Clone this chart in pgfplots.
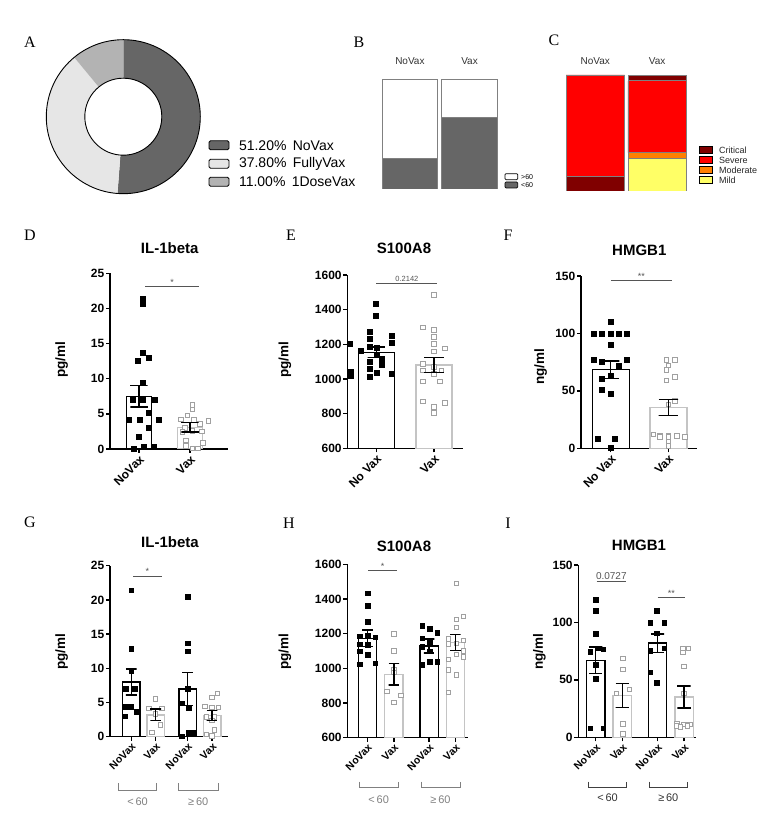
\documentclass[border=0pt]{standalone}
\usepackage{pgfplots}
\pgfplotsset{compat=1.18}
\usepackage{fontspec}
\setmainfont{Liberation Sans}
\newfontfamily\serif{Liberation Serif}
\definecolor{dgray}{HTML}{666666}
\definecolor{lgray}{HTML}{E6E6E6}
\definecolor{mgray}{HTML}{B3B3B3}
\definecolor{crit}{HTML}{800000}
\definecolor{sev}{HTML}{FF0000}
\definecolor{mod}{HTML}{FF8000}
\definecolor{mild}{HTML}{FFFF66}
\definecolor{vaxbar}{HTML}{C4C4C4}
\definecolor{vaxpt}{HTML}{A0A0A0}
\definecolor{sigc}{HTML}{555555}
\definecolor{brd}{HTML}{808080}
\newcommand{\fs}[1]{\fontsize{#1}{#1}\selectfont}
\pgfplotsset{
  gp/.style={scale only axis, anchor=south west, axis lines*=left,
    axis line style={line width=1.4pt, -}, tick style={line width=1.4pt, black},
    tick align=outside, major tick length=4pt, clip mode=individual,
    yticklabel style={font=\bfseries\fs{12}, inner sep=1.5pt},
    xticklabel style={font=\bfseries\fs{12}, rotate=45, anchor=north east, inner sep=1pt},
    /pgf/number format/assume math mode=true, /pgf/number format/1000 sep={}},
  gp3/.style={gp, xticklabel style={font=\bfseries\fs{10.5}}},
  nvbar/.style={ybar, bar shift=0pt, fill=white, draw=black, line width=1.4pt},
  vxbar/.style={ybar, bar shift=0pt, fill=white, draw=vaxbar, line width=1.4pt},
  nvpt/.style={only marks, mark=square*, mark size=2.5pt, mark options={fill=black, draw=black, line width=0.3pt}},
  vxpt/.style={only marks, mark=square*, mark size=2.3pt, mark options={fill=white, draw=vaxpt, line width=0.9pt}},
  eb/.style={black, line width=1.4pt, mark=none, line cap=butt},
  stk/.style={draw=brd, line width=0.8pt},
}
\begin{document}
\begin{tikzpicture}[x=1pt,y=1pt]
\path[use as bounding box] (0,0) rectangle (778,824);

% panel letters
\foreach \l/\x/\y in {A/30/782, B/359/782, C/554/784, D/30/589, E/291/589, F/508/589, G/30/302, H/289/301, I/508/301}
  \node[font=\serif\fs{16}] at (\x,\y) {\l};

% ---------- A : donut ----------
\pgfmathsetmacro{\angA}{90-3.6*51.20}
\pgfmathsetmacro{\angB}{\angA-3.6*37.80}
\pgfmathsetmacro{\angC}{\angB-3.6*11.00}
\begin{scope}[shift={(123.3,707.3)}]
  \fill[dgray] (90:77pt) arc[start angle=90, end angle=\angA, radius=77pt] -- (\angA:38.5pt) arc[start angle=\angA, end angle=90, radius=38.5pt] -- cycle;
  \fill[lgray] (\angA:77pt) arc[start angle=\angA, end angle=\angB, radius=77pt] -- (\angB:38.5pt) arc[start angle=\angB, end angle=\angA, radius=38.5pt] -- cycle;
  \fill[mgray] (\angB:77pt) arc[start angle=\angB, end angle=\angC, radius=77pt] -- (\angC:38.5pt) arc[start angle=\angC, end angle=\angB, radius=38.5pt] -- cycle;
  \draw[line width=0.9pt] (0,0) circle[radius=77pt];
  \draw[line width=0.9pt] (0,0) circle[radius=38.5pt];
\end{scope}
\draw[fill=dgray, rounded corners=1.5pt, line width=0.8pt] (209,674.2) rectangle (229,683.2);
\draw[fill=lgray, rounded corners=1.5pt, line width=0.8pt] (209,655.8) rectangle (229,664.8);
\draw[fill=mgray, rounded corners=1.5pt, line width=0.8pt] (209,637.8) rectangle (229,646.8);
\node[anchor=west, font=\fs{14}] at (235.5,678.7) {51.20\%\hspace{0.45em}NoVax};
\node[anchor=west, font=\fs{14}] at (235.5,660.3) {37.80\%\hspace{0.45em}FullyVax};
\node[anchor=west, font=\fs{14}] at (235.5,642.3) {11.00\%\hspace{0.45em}1DoseVax};

% ---------- B ----------
\begin{axis}[at={(380.1pt,635pt)}, anchor=south west, scale only axis, width=119.2pt, height=110pt,
  xmin=0.5, xmax=2.5, ymin=0, ymax=100, hide axis, ybar stacked, bar width=55.5pt]
  \addplot[stk, fill=dgray] coordinates {(1,27.5) (2,65)};
  \addplot[stk, fill=white] coordinates {(1,72.5) (2,35)};
\end{axis}
\node[font=\fs{10}, text=black!80] at (409.9,763.3) {NoVax};
\node[font=\fs{10}, text=black!80] at (469.5,763.3) {Vax};
\draw[fill=white, line width=0.7pt, rounded corners=1pt] (505,644.3) rectangle (517.7,650.3);
\draw[fill=dgray, line width=0.7pt, rounded corners=1pt] (505,636) rectangle (517.7,642);
\node[anchor=west, font=\fs{7}, inner sep=1pt] at (520,647.3) {>60};
\node[anchor=west, font=\fs{7}, inner sep=1pt] at (520,639) {<60};

% ---------- C ----------
\begin{axis}[at={(564.35pt,633pt)}, anchor=south west, scale only axis, width=123.8pt, height=116pt,
  xmin=0.5, xmax=2.5, ymin=0, ymax=100, hide axis, ybar stacked, bar width=58.5pt]
  \addplot[stk, fill=crit] coordinates {(1,13) (2,0)};
  \addplot[stk, fill=mild] coordinates {(1,0) (2,28.5)};
  \addplot[stk, fill=mod] coordinates {(1,0) (2,4.5)};
  \addplot[stk, fill=sev] coordinates {(1,87) (2,62)};
  \addplot[stk, fill=crit] coordinates {(1,0) (2,5)};
\end{axis}
\node[font=\fs{10}, text=black!80] at (595.3,763.3) {NoVax};
\node[font=\fs{10}, text=black!80] at (657.2,763.3) {Vax};
\foreach \c/\t/\y in {crit/Critical/674, sev/Severe/663.7, mod/Moderate/653.7, mild/Mild/644}{
  \draw[fill=\c, line width=0.7pt] (699,\y-3.5) rectangle (712,\y+3.5);
  \node[anchor=west, font=\fs{9}, inner sep=1pt, text=black!85] at (718,\y) {\t};
}

% ---------- D ----------
\begin{axis}[gp, at={(110pt,375pt)}, width=117.7pt, height=175.7pt, xmin=0.431, xmax=2.739,
  ymin=0, ymax=25, ytick={0,5,10,15,20,25}, xtick={1,2}, xticklabels={NoVax,Vax}]
  \addplot[nvbar, bar width=25pt] coordinates {(1,7.5)};
  \addplot[vxbar, bar width=25pt] coordinates {(2,3.1)};
  \addplot[nvpt] coordinates {(1.08,21.4) (1.08,20.7) (1.08,13.7) (1.18,13.0) (0.98,12.5) (1.08,9.5)
    (0.88,7.0) (1.08,7.0) (1.30,7.0) (1.18,5.2) (0.80,4.2) (1.02,4.2) (1.38,4.2) (1.18,3.1)
    (1.00,1.8) (0.90,0.1) (1.10,0.3) (1.28,0.3)};
  \addplot[vxpt] coordinates {(2.05,6.3) (2.05,5.6) (1.95,4.8) (1.82,4.2) (2.08,4.1) (2.36,4.0)
    (2.20,3.6) (1.90,3.0) (2.05,2.6) (2.23,2.5) (1.85,2.4) (1.92,1.2) (2.25,0.9) (1.92,0.4)
    (2.05,0.1) (2.15,0.1)};
  % mean +- SEM
  \addplot[eb] coordinates {(0.83,9.05) (1.17,9.05) (1,9.05) (1,5.95) (0.83,5.95) (1.17,5.95)};
  \addplot[eb] coordinates {(1.83,3.8) (2.17,3.8) (2,3.8) (2,2.4) (1.83,2.4) (2.17,2.4)};
  \draw[sigc, line width=0.9pt] (axis cs:1.12,23.1) -- (axis cs:2.18,23.1);
  \node[sigc, font=\fs{9}, above, inner sep=1pt] at (axis cs:1.65,23.1) {*};
\end{axis}
\node[font=\bfseries\fs{15}] at (169.7,575.7) {IL-1beta};
\node[rotate=90, font=\bfseries\fs{13.5}] at (61.7,464) {pg/ml};

% ---------- E ----------
\begin{axis}[gp, at={(347.3pt,375.7pt)}, width=115.4pt, height=173.3pt, xmin=0.497, xmax=2.497,
  ymin=600, ymax=1600, ytick={600,800,1000,1200,1400,1600}, xtick={1,2}, xticklabels={No Vax,Vax}]
  \addplot[nvbar, bar width=36pt] coordinates {(1,1154)};
  \addplot[vxbar, bar width=36pt] coordinates {(2,1081)};
  \addplot[nvpt] coordinates {(0.98,1433) (0.98,1363) (0.89,1273) (1.27,1250) (0.89,1230) (1.27,1212)
    (0.53,1202) (0.89,1187) (1.00,1180) (0.72,1165) (1.00,1140) (1.09,1120) (0.89,1100) (1.09,1085)
    (0.89,1060) (0.55,1045) (1.00,1035) (1.27,1030) (0.55,1020) (0.89,1015)};
  \addplot[vxpt] coordinates {(2.00,1485) (1.81,1298) (2.00,1283) (2.00,1244) (2.00,1202) (2.19,1177)
    (2.00,1158) (1.81,1087) (2.00,1071) (1.81,1050) (2.13,1050) (2.00,1030) (1.81,985) (2.10,985)
    (1.81,870) (2.19,862) (2.00,840) (2.00,805)};
  \addplot[eb] coordinates {(0.85,1184) (1.15,1184) (1,1184) (1,1124) (0.85,1124) (1.15,1124)};
  \addplot[eb] coordinates {(1.83,1124) (2.17,1124) (2,1124) (2,1038) (1.83,1038) (2.17,1038)};
  \draw[sigc, line width=0.9pt] (axis cs:1.0,1552) -- (axis cs:2.06,1552);
  \node[sigc, font=\fs{7.5}, above, inner sep=2pt] at (axis cs:1.53,1552) {0.2142};
\end{axis}
\node[font=\bfseries\fs{15}] at (404,575.7) {S100A8};
\node[rotate=90, font=\bfseries\fs{13.5}] at (285,464) {pg/ml};

% ---------- F ----------
\begin{axis}[gp, at={(581pt,375.7pt)}, width=115.7pt, height=172.3pt, xmin=0.482, xmax=2.494,
  ymin=0, ymax=150, ytick={0,50,100,150}, xtick={1,2}, xticklabels={No Vax,Vax}]
  \addplot[nvbar, bar width=37pt] coordinates {(1,68.5)};
  \addplot[vxbar, bar width=37pt] coordinates {(2,35.5)};
  \addplot[nvpt] coordinates {(0.99,110) (0.70,100) (0.84,100) (0.99,100) (1.13,100) (1.28,100)
    (0.99,90) (0.70,77.5) (1.28,77.5) (0.84,75) (1.13,72) (0.99,63) (0.84,61) (0.84,51)
    (0.99,48) (0.78,8) (1.07,8) (0.99,0.5)};
  \addplot[vxpt] coordinates {(1.97,77) (2.12,77) (2.00,72) (1.97,68) (2.12,62) (1.97,59) (2.12,41)
    (2.00,38) (1.74,12) (1.86,11) (2.00,11) (2.15,11) (2.29,10) (1.86,10) (2.00,10) (2.00,6) (2.00,2)};
  \addplot[eb] coordinates {(0.85,76) (1.15,76) (1,76) (1,61) (0.85,61) (1.15,61)};
  \addplot[eb] coordinates {(1.83,42.3) (2.17,42.3) (2,42.3) (2,28.7) (1.83,28.7) (2.17,28.7)};
  \draw[sigc, line width=0.9pt] (axis cs:1.0,145.9) -- (axis cs:2.06,145.9);
  \node[sigc, font=\fs{9}, above, inner sep=1pt] at (axis cs:1.53,145.9) {**};
\end{axis}
\node[font=\bfseries\fs{15}] at (639.3,574) {HMGB1};
\node[rotate=90, font=\bfseries\fs{13.5}] at (540.7,457.3) {ng/ml};

% ---------- G ----------
\begin{axis}[gp3, at={(110pt,87.3pt)}, width=118pt, height=171pt, xmin=0.135, xmax=4.95,
  ymin=0, ymax=25, ytick={0,5,10,15,20,25}, xtick={1,2,3.3,4.3}, xticklabels={NoVax,Vax,NoVax,Vax}]
  \addplot[nvbar, bar width=17.5pt] coordinates {(1,8.0) (3.3,7.0)};
  \addplot[vxbar, bar width=17.5pt] coordinates {(2,3.2) (4.3,3.1)};
  \addplot[nvpt, mark size=2.3pt] coordinates {(1.0,21.4) (1.0,12.9) (1.0,9.6) (0.78,7.0) (1.15,7.0)
    (0.78,4.4) (1.0,4.4) (1.2,3.7) (0.75,3.0)
    (3.3,20.5) (3.3,13.7) (3.3,12.5) (3.3,7.0) (3.06,4.9) (3.35,4.2) (3.06,0.1) (3.32,0.6) (3.52,0.6)};
  \addplot[vxpt, mark size=2.2pt] coordinates {(2.0,5.5) (1.72,4.1) (2.25,4.1) (2.0,3.3) (2.2,1.7) (1.85,0.6)
    (4.52,6.3) (4.3,5.7) (4.01,4.4) (4.3,4.3) (4.55,4.3) (4.06,2.9) (4.4,2.9) (4.3,2.4)
    (4.06,0.3) (4.3,0.1) (4.4,1.0)};
  \addplot[eb] coordinates {(0.78,9.9) (1.22,9.9) (1,9.9) (1,6.1) (0.78,6.1) (1.22,6.1)};
  \addplot[eb] coordinates {(1.78,4.05) (2.22,4.05) (2,4.05) (2,2.35) (1.78,2.35) (2.22,2.35)};
  \addplot[eb] coordinates {(3.08,9.4) (3.52,9.4) (3.3,9.4) (3.3,4.6) (3.08,4.6) (3.52,4.6)};
  \addplot[eb] coordinates {(4.08,3.8) (4.52,3.8) (4.3,3.8) (4.3,2.4) (4.08,2.4) (4.52,2.4)};
  \draw[sigc, line width=0.9pt] (axis cs:1.09,23.5) -- (axis cs:2.24,23.5);
  \node[sigc, font=\fs{9}, above, inner sep=1pt] at (axis cs:1.66,23.5) {*};
\end{axis}
\node[font=\bfseries\fs{15}] at (170,282.3) {IL-1beta};
\node[rotate=90, font=\bfseries\fs{13.5}] at (61.7,172.3) {pg/ml};
\draw[brd, line width=0.9pt] (118.3,40.7) -- (118.3,34) -- (156.7,34) -- (156.7,40.7);
\draw[brd, line width=0.9pt] (178.3,40.7) -- (178.3,34) -- (218.3,34) -- (218.3,40.7);
\node[text=brd, font=\fs{11}] at (137.5,22.3) {<\,60};
\node[text=brd, font=\fs{11}] at (198.3,22.3) {≥\,60};

% ---------- H ----------
\begin{axis}[gp3, at={(347.3pt,86.3pt)}, width=121pt, height=173.4pt, xmin=0.232, xmax=4.83,
  ymin=600, ymax=1600, ytick={600,800,1000,1200,1400,1600}, xtick={1,2,3.34,4.34}, xticklabels={NoVax,Vax,NoVax,Vax}]
  \addplot[nvbar, bar width=18.3pt] coordinates {(1,1173) (3.34,1129)};
  \addplot[vxbar, bar width=18.3pt] coordinates {(2,966) (4.34,1150)};
  \addplot[nvpt, mark size=2.3pt] coordinates {(1.0,1433) (1.0,1360) (1.0,1270) (1.0,1190) (0.71,1185) (1.29,1180)
    (0.71,1140) (1.0,1135) (0.71,1100) (1.0,1080) (1.29,1030) (0.71,1025)
    (3.07,1245) (3.36,1230) (3.64,1205) (3.07,1175) (3.36,1150) (3.07,1125) (3.36,1100) (3.36,1040) (3.64,1040) (3.07,1020)};
  \addplot[vxpt, mark size=2.2pt] coordinates {(2.0,1198) (2.0,1100) (2.0,990) (2.0,975) (1.74,865) (2.27,845) (2.0,802)
    (4.37,1490) (4.37,1283) (4.64,1298) (4.37,1237) (4.07,1170) (4.64,1160) (4.37,1145) (4.07,1140)
    (4.64,1100) (4.37,1080) (4.64,1065) (4.07,1050) (4.07,990) (4.37,962) (4.07,860)};
  \addplot[eb] coordinates {(0.8,1221) (1.2,1221) (1,1221) (1,1125) (0.8,1125) (1.2,1125)};
  \addplot[eb] coordinates {(1.8,1029) (2.2,1029) (2,1029) (2,903) (1.8,903) (2.2,903)};
  \addplot[eb] coordinates {(3.14,1169) (3.54,1169) (3.34,1169) (3.34,1089) (3.14,1089) (3.54,1089)};
  \addplot[eb] coordinates {(4.14,1196) (4.54,1196) (4.34,1196) (4.34,1104) (4.14,1104) (4.54,1104)};
  \draw[sigc, line width=0.9pt] (axis cs:1.03,1562) -- (axis cs:2.11,1562);
  \node[sigc, font=\fs{9}, above, inner sep=1pt] at (axis cs:1.57,1562) {*};
\end{axis}
\node[font=\bfseries\fs{15}] at (404,277.3) {S100A8};
\node[rotate=90, font=\bfseries\fs{13.5}] at (285,172.3) {pg/ml};
\draw[brd, line width=0.9pt] (359,42.3) -- (359,36.7) -- (398.3,36.7) -- (398.3,42.3);
\draw[brd, line width=0.9pt] (421,42.3) -- (421,36.7) -- (460,36.7) -- (460,42.3);
\node[text=brd, font=\fs{11}] at (378.7,24.7) {<\,60};
\node[text=brd, font=\fs{11}] at (440.5,24.7) {≥\,60};

% ---------- I ----------
\begin{axis}[gp3, at={(578.3pt,86.7pt)}, width=117.4pt, height=172.3pt, xmin=0.34, xmax=4.77,
  ymin=0, ymax=150, ytick={0,50,100,150}, xtick={1,2,3.33,4.33}, xticklabels={NoVax,Vax,NoVax,Vax}]
  \addplot[nvbar, bar width=18.3pt] coordinates {(1,67) (3.33,82)};
  \addplot[vxbar, bar width=18.3pt] coordinates {(2,36.5) (4.33,35)};
  \addplot[nvpt, mark size=2.3pt] coordinates {(1.0,120) (1.0,110) (1.0,90) (0.78,74.6) (1.1,77.5) (1.28,76.6)
    (1.0,63) (1.0,51.3) (0.78,7.8) (1.27,7.8)
    (3.3,110) (3.05,100) (3.58,100) (3.3,90.5) (3.05,75.4) (3.58,77.5) (3.05,56.6) (3.3,47.6)};
  \addplot[vxpt, mark size=2.2pt] coordinates {(2.03,68.8) (2.03,59.2) (1.78,38.3) (2.28,41.8) (2.03,11.6) (2.03,2.9)
    (4.29,77.5) (4.5,77.5) (4.29,73.7) (4.33,61.5) (4.33,38) (4.06,12) (4.33,11) (4.56,11) (4.06,10) (4.45,10) (4.2,9)};
  \addplot[eb] coordinates {(0.75,78.6) (1.25,78.6) (1,78.6) (1,55.4) (0.75,55.4) (1.25,55.4)};
  \addplot[eb] coordinates {(1.75,47) (2.25,47) (2,47) (2,26) (1.75,26) (2.25,26)};
  \addplot[eb] coordinates {(3.08,90) (3.58,90) (3.33,90) (3.33,74) (3.08,74) (3.58,74)};
  \addplot[eb] coordinates {(4.08,44.5) (4.58,44.5) (4.33,44.5) (4.33,25.5) (4.08,25.5) (4.58,25.5)};
  \draw[sigc, line width=0.9pt] (axis cs:1.03,136) -- (axis cs:2.14,136);
  \node[sigc, font=\fs{10}, above, inner sep=1.5pt] at (axis cs:1.585,136) {0.0727};
  \draw[sigc, line width=0.9pt] (axis cs:3.33,121.5) -- (axis cs:4.37,121.5);
  \node[sigc, font=\fs{9}, above, inner sep=1pt] at (axis cs:3.85,121.5) {**};
\end{axis}
\node[font=\bfseries\fs{15}] at (639,279) {HMGB1};
\node[rotate=90, font=\bfseries\fs{13.5}] at (539.3,172.3) {ng/ml};
\draw[black!75, line width=0.9pt] (588.3,42.3) -- (588.3,36.7) -- (626.7,36.7) -- (626.7,42.3);
\draw[black!75, line width=0.9pt] (649,42.3) -- (649,36.7) -- (687.7,36.7) -- (687.7,42.3);
\node[text=black!80, font=\fs{11}] at (607.5,26.7) {<\,60};
\node[text=black!80, font=\fs{11}] at (668.3,26.7) {≥\,60};
\end{tikzpicture}
\end{document}
